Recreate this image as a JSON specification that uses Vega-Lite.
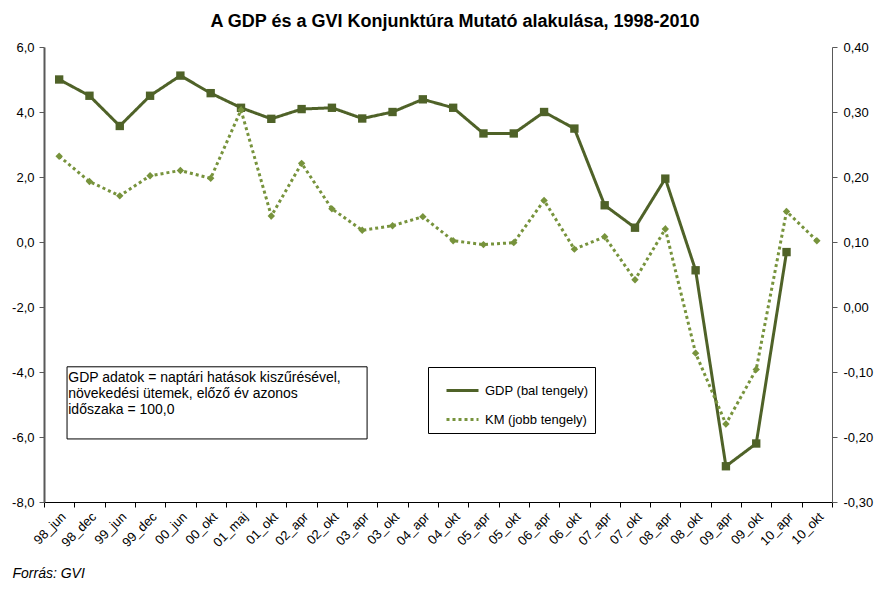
{
  "$schema": "https://vega.github.io/schema/vega-lite/v6.json",
  "width": 788,
  "height": 455,
  "autosize": {"type": "none"},
  "padding": {"left": 44, "top": 47, "right": 45, "bottom": 88},
  "background": "white",
  "title": {
    "text": "A GDP és a GVI Konjunktúra Mutató alakulása, 1998-2010",
    "font": "Liberation Sans",
    "fontSize": 18,
    "fontWeight": "bold",
    "color": "black",
    "anchor": "middle",
    "dx": 17,
    "baseline": "alphabetic",
    "offset": -4
  },
  "datasets": {
    "series": [
      {"period": "98_jun", "series": "GDP (bal tengely)", "value": 5.0},
      {"period": "98_dec", "series": "GDP (bal tengely)", "value": 4.5},
      {"period": "99_jun", "series": "GDP (bal tengely)", "value": 3.57},
      {"period": "99_dec", "series": "GDP (bal tengely)", "value": 4.5},
      {"period": "00_jun", "series": "GDP (bal tengely)", "value": 5.12},
      {"period": "00_okt", "series": "GDP (bal tengely)", "value": 4.58},
      {"period": "01_maj", "series": "GDP (bal tengely)", "value": 4.13},
      {"period": "01_okt", "series": "GDP (bal tengely)", "value": 3.79},
      {"period": "02_apr", "series": "GDP (bal tengely)", "value": 4.09},
      {"period": "02_okt", "series": "GDP (bal tengely)", "value": 4.13},
      {"period": "03_apr", "series": "GDP (bal tengely)", "value": 3.8},
      {"period": "03_okt", "series": "GDP (bal tengely)", "value": 4.0},
      {"period": "04_apr", "series": "GDP (bal tengely)", "value": 4.39},
      {"period": "04_okt", "series": "GDP (bal tengely)", "value": 4.13},
      {"period": "05_apr", "series": "GDP (bal tengely)", "value": 3.34},
      {"period": "05_okt", "series": "GDP (bal tengely)", "value": 3.34},
      {"period": "06_apr", "series": "GDP (bal tengely)", "value": 4.0},
      {"period": "06_okt", "series": "GDP (bal tengely)", "value": 3.49},
      {"period": "07_apr", "series": "GDP (bal tengely)", "value": 1.13},
      {"period": "07_okt", "series": "GDP (bal tengely)", "value": 0.44},
      {"period": "08_apr", "series": "GDP (bal tengely)", "value": 1.95},
      {"period": "08_okt", "series": "GDP (bal tengely)", "value": -0.87},
      {"period": "09_apr", "series": "GDP (bal tengely)", "value": -6.9},
      {"period": "09_okt", "series": "GDP (bal tengely)", "value": -6.2},
      {"period": "10_apr", "series": "GDP (bal tengely)", "value": -0.31},
      {"period": "98_jun", "series": "KM (jobb tengely)", "value": 0.232},
      {"period": "98_dec", "series": "KM (jobb tengely)", "value": 0.193},
      {"period": "99_jun", "series": "KM (jobb tengely)", "value": 0.171},
      {"period": "99_dec", "series": "KM (jobb tengely)", "value": 0.202},
      {"period": "00_jun", "series": "KM (jobb tengely)", "value": 0.21},
      {"period": "00_okt", "series": "KM (jobb tengely)", "value": 0.198},
      {"period": "01_maj", "series": "KM (jobb tengely)", "value": 0.303},
      {"period": "01_okt", "series": "KM (jobb tengely)", "value": 0.14},
      {"period": "02_apr", "series": "KM (jobb tengely)", "value": 0.221},
      {"period": "02_okt", "series": "KM (jobb tengely)", "value": 0.151},
      {"period": "03_apr", "series": "KM (jobb tengely)", "value": 0.118},
      {"period": "03_okt", "series": "KM (jobb tengely)", "value": 0.125},
      {"period": "04_apr", "series": "KM (jobb tengely)", "value": 0.139},
      {"period": "04_okt", "series": "KM (jobb tengely)", "value": 0.102},
      {"period": "05_apr", "series": "KM (jobb tengely)", "value": 0.096},
      {"period": "05_okt", "series": "KM (jobb tengely)", "value": 0.099},
      {"period": "06_apr", "series": "KM (jobb tengely)", "value": 0.164},
      {"period": "06_okt", "series": "KM (jobb tengely)", "value": 0.089},
      {"period": "07_apr", "series": "KM (jobb tengely)", "value": 0.108},
      {"period": "07_okt", "series": "KM (jobb tengely)", "value": 0.042},
      {"period": "08_apr", "series": "KM (jobb tengely)", "value": 0.12},
      {"period": "08_okt", "series": "KM (jobb tengely)", "value": -0.071},
      {"period": "09_apr", "series": "KM (jobb tengely)", "value": -0.18},
      {"period": "09_okt", "series": "KM (jobb tengely)", "value": -0.096},
      {"period": "10_apr", "series": "KM (jobb tengely)", "value": 0.147},
      {"period": "10_okt", "series": "KM (jobb tengely)", "value": 0.102}
    ]
  },
  "data": {"name": "series"},
  "layer": [
    {
      "layer": [
        {
          "transform": [{"filter": "datum.series === 'GDP (bal tengely)'"}],
          "mark": {"type": "line", "strokeWidth": 3, "point": {"shape": "square", "size": 70, "filled": true, "opacity": 1}},
          "encoding": {
            "x": {
              "field": "period", "type": "ordinal",
              "sort": ["98_jun","98_dec","99_jun","99_dec","00_jun","00_okt","01_maj","01_okt","02_apr","02_okt","03_apr","03_okt","04_apr","04_okt","05_apr","05_okt","06_apr","06_okt","07_apr","07_okt","08_apr","08_okt","09_apr","09_okt","10_apr","10_okt"],
              "scale": {"type": "band", "paddingInner": 0, "paddingOuter": 0, "domain": ["98_jun","98_dec","99_jun","99_dec","00_jun","00_okt","01_maj","01_okt","02_apr","02_okt","03_apr","03_okt","04_apr","04_okt","05_apr","05_okt","06_apr","06_okt","07_apr","07_okt","08_apr","08_okt","09_apr","09_okt","10_apr","10_okt"]},
              "axis": {
                "orient": "bottom", "labelAngle": -45, "tickBand": "extent",
                "domainColor": "black", "tickColor": "black", "tickSize": 5, "labelPadding": 3,
                "labelFont": "Liberation Sans", "labelFontSize": 13, "labelColor": "black",
                "title": "Forrás: GVI", "titleX": -32, "titleY": 75, "titleAlign": "left", "titleAnchor": "start",
                "titleBaseline": "alphabetic", "titleFont": "Liberation Sans", "titleFontSize": 14,
                "titleFontStyle": "italic", "titleFontWeight": "normal", "titleColor": "black", "grid": false
              }
            },
            "y": {
              "field": "value", "type": "quantitative",
              "scale": {"domain": [-8, 6], "nice": false, "zero": false},
              "axis": {
                "orient": "left", "values": [-8, -6, -4, -2, 0, 2, 4, 6],
                "labelExpr": "replace(replace(format(datum.value, '.1f'), '.', ','), '−', '-')",
                "title": null, "grid": false, "domainColor": "#595959", "domainWidth": 2,
                "tickColor": "#595959", "tickSize": 5, "labelPadding": 5,
                "labelFont": "Liberation Sans", "labelFontSize": 13, "labelColor": "black"
              }
            },
            "color": {
              "field": "series", "type": "nominal",
              "scale": {"domain": ["GDP (bal tengely)", "KM (jobb tengely)"], "range": ["#4F6228", "#77933C"]}
            },
            "strokeDash": {
              "field": "series", "type": "nominal",
              "scale": {"domain": ["GDP (bal tengely)", "KM (jobb tengely)"], "range": [[1, 0], [3, 3]]}
            }
          }
        },
        {
          "transform": [{"filter": "datum.series === 'KM (jobb tengely)'"}],
          "mark": {"type": "line", "strokeWidth": 3, "point": {"shape": "diamond", "size": 55, "filled": true, "opacity": 1}},
          "encoding": {
            "x": {
              "field": "period", "type": "ordinal",
              "sort": ["98_jun","98_dec","99_jun","99_dec","00_jun","00_okt","01_maj","01_okt","02_apr","02_okt","03_apr","03_okt","04_apr","04_okt","05_apr","05_okt","06_apr","06_okt","07_apr","07_okt","08_apr","08_okt","09_apr","09_okt","10_apr","10_okt"]
            },
            "y": {
              "field": "value", "type": "quantitative",
              "scale": {"domain": [-0.3, 0.4], "nice": false, "zero": false},
              "axis": {
                "orient": "right", "values": [-0.3, -0.2, -0.1, 0, 0.1, 0.2, 0.3, 0.4],
                "labelExpr": "replace(replace(format(datum.value, '.2f'), '.', ','), '−', '-')",
                "title": null, "grid": false, "domainColor": "#595959", "domainWidth": 1,
                "tickColor": "#595959", "tickSize": 5, "labelPadding": 6,
                "labelFont": "Liberation Sans", "labelFontSize": 13, "labelColor": "black"
              }
            },
            "color": {"field": "series", "type": "nominal"},
            "strokeDash": {"field": "series", "type": "nominal"}
          }
        }
      ],
      "resolve": {"scale": {"y": "independent"}}
    },
    {
      "data": {"values": [{}]},
      "layer": [
        {
          "mark": {"type": "rect", "fill": "white", "stroke": "black", "strokeWidth": 1},
          "encoding": {
            "x": {"datum": 0.76, "type": "quantitative", "scale": {"domain": [0, 26], "nice": false, "zero": false}, "axis": null},
            "x2": {"datum": 10.66},
            "y": {"datum": -3.84, "type": "quantitative", "scale": {"domain": [-8, 6], "nice": false, "zero": false}, "axis": null},
            "y2": {"datum": -6.06}
          }
        },
        {
          "mark": {
            "type": "text",
            "text": ["GDP adatok = naptári hatások kiszűrésével,", "növekedési ütemek, előző év azonos", "időszaka = 100,0"],
            "align": "left", "baseline": "alphabetic", "font": "Liberation Sans", "fontSize": 14, "lineHeight": 16, "color": "black"
          },
          "encoding": {
            "x": {"datum": 0.8, "type": "quantitative"},
            "y": {"datum": -4.31, "type": "quantitative"}
          }
        }
      ]
    }
  ],
  "resolve": {"scale": {"x": "independent", "y": "independent"}},
  "config": {
    "view": {"stroke": null},
    "font": "Liberation Sans",
    "legend": {
      "orient": "none", "legendX": 384, "legendY": 320, "title": null,
      "strokeColor": "black", "fillColor": "white", "padding": 6,
      "symbolType": "stroke", "symbolSize": 1024, "symbolStrokeWidth": 3, "symbolOffset": 11,
      "labelFont": "Liberation Sans", "labelFontSize": 13, "labelColor": "black",
      "rowPadding": 4, "labelOffset": 5
    }
  }
}
